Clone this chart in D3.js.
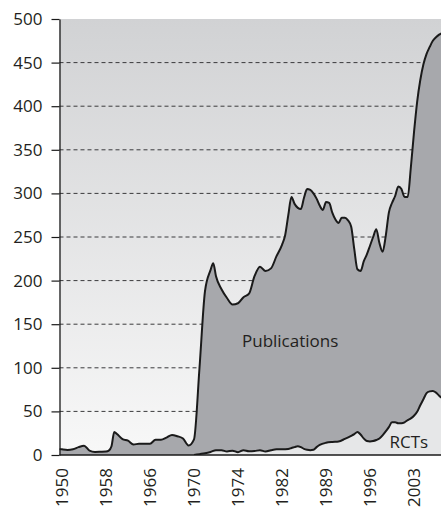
<!DOCTYPE html>
<html>
<head>
<meta charset="utf-8">
<script src="https://cdn.jsdelivr.net/npm/d3@7"></script>
<style>
  html, body { margin: 0; padding: 0; background: #ffffff; }
  svg { display: block; }
  text { font-family: "Open Sans", "Noto Sans", sans-serif; fill: #231f20; }
</style>
</head>
<body>
<svg id="chart" width="441" height="510"></svg>
<script>
// Year labels shown along the bottom axis (equally spaced)
const tickYears = [1950, 1958, 1966, 1970, 1974, 1982, 1989, 1996, 2003];
// Value ticks on the left axis
const yTicks = [0, 50, 100, 150, 200, 250, 300, 350, 400, 450, 500];

// Publications per year
const pubYears = [
  1949.5, 1950, 1951, 1952, 1953, 1954, 1955, 1956, 1957, 1958, 1958.5, 1959, 1959.5,
  1960, 1961, 1962, 1963, 1964, 1965, 1966, 1966.5, 1967, 1967.5, 1968, 1968.5, 1969,
  1969.5, 1970, 1970.5, 1971, 1971.5, 1971.75, 1972, 1972.5, 1973, 1973.5, 1974,
  1975, 1976, 1977, 1978, 1979, 1980, 1981, 1982, 1982.5, 1983, 1983.5, 1984, 1985,
  1985.5, 1986, 1986.5, 1987, 1987.5, 1988, 1988.5, 1989, 1989.5, 1990, 1990.5, 1991,
  1991.5, 1992, 1992.5, 1993, 1993.5, 1994, 1994.5, 1995, 1995.5, 1996, 1996.5, 1997,
  1997.5, 1998, 1998.5, 1999, 1999.5, 2000, 2000.5, 2001, 2001.5, 2002, 2002.5, 2003,
  2003.5, 2004, 2004.5, 2005, 2005.5, 2006, 2006.5, 2007, 2007.5
];
const pubCounts = [
  7, 6.5, 5.8, 6.5, 9, 10.7, 5, 3.5, 3.7, 4, 5, 10, 26.5,
  24, 18.3, 16.4, 12, 13, 13, 13, 17.5, 17.5, 20, 23, 21.5, 19,
  11, 18, 100, 188, 212, 220, 205, 190, 180, 172.5, 174,
  181, 185, 205, 216, 211, 214, 228, 241, 252, 275, 296, 288, 282,
  295, 305, 304, 300, 294, 286, 281, 290, 289, 278, 270, 266,
  272, 272, 269, 262, 236, 213, 211, 222, 230, 240, 250, 259,
  243, 233, 251, 278, 289, 297, 308, 305, 296, 296, 330, 370,
  405, 430, 448, 460, 468, 475, 479, 482, 484
];

// Randomised controlled trials per year
const rctYears = [
  1970, 1970.5, 1971, 1971.5, 1972, 1972.5, 1973, 1973.5, 1974, 1975, 1976, 1977,
  1978, 1979, 1980, 1981, 1982, 1983, 1983.5, 1984, 1984.5, 1985, 1985.5, 1986,
  1986.5, 1987, 1987.5, 1988, 1989, 1990, 1991, 1992, 1993, 1993.5, 1994, 1994.5,
  1995, 1995.5, 1996, 1996.5, 1997, 1997.5, 1998, 1998.5, 1999, 1999.5, 2000, 2000.5,
  2001, 2001.5, 2002, 2002.5, 2003, 2003.5, 2004, 2004.5, 2005, 2005.5, 2006, 2006.5,
  2007, 2007.5
];
const rctCounts = [
  0, 1, 2, 3.5, 5.5, 5.5, 4, 5, 3.2, 5.5, 4.3, 4.5,
  5.5, 4, 5.5, 6.5, 6.5, 7, 8, 9, 10, 9, 7, 6,
  5.5, 6, 9, 11.5, 14, 15, 15.5, 18.5, 22, 24, 26.5, 23.5,
  19, 16, 15.5, 16, 17.2, 19, 22.5, 27, 32, 37.5, 37.5, 36.5,
  36.5, 37.5, 40, 42, 45, 49.5, 57, 64, 71, 73, 73.5, 71.5,
  68, 65
];

const svg = d3.select("#chart");
const W = 441, H = 510;
const plotLeft = 59.5, plotTop = 19, plotBottom = 455, plotRight = W;
const firstTick = 62, tickStep = 44;

const x = d3.scaleLinear()
  .domain(tickYears)
  .range(tickYears.map((d, i) => firstTick + i * tickStep));
const y = d3.scaleLinear().domain([0, 500]).range([plotBottom, plotTop]);

// Plot background: grey at the top fading to near white at the baseline
const defs = svg.append("defs");
const grad = defs.append("linearGradient")
  .attr("id", "bg").attr("x1", 0).attr("y1", 0).attr("x2", 0).attr("y2", 1);
grad.append("stop").attr("offset", "0%").attr("stop-color", "#d1d2d4");
grad.append("stop").attr("offset", "100%").attr("stop-color", "#f8f8f8");
defs.append("clipPath").attr("id", "plotClip")
  .append("rect")
  .attr("x", plotLeft).attr("y", plotTop - 5)
  .attr("width", plotRight - plotLeft).attr("height", plotBottom - plotTop + 5);

svg.append("rect")
  .attr("x", plotLeft).attr("y", plotTop)
  .attr("width", plotRight - plotLeft).attr("height", plotBottom - plotTop)
  .attr("fill", "url(#bg)");

// Dashed gridlines
svg.append("g")
  .selectAll("line")
  .data(yTicks.filter(d => d > 0 && d < 500))
  .join("line")
  .attr("x1", plotLeft).attr("x2", plotRight)
  .attr("y1", d => y(d)).attr("y2", d => y(d))
  .attr("stroke", "#3a3a3c").attr("stroke-width", 1)
  .attr("stroke-dasharray", "4,3");

const plot = svg.append("g").attr("clip-path", "url(#plotClip)");

const pubData = pubYears.map((yr, i) => ({ yr, v: pubCounts[i] }));
const rctData = rctYears.map((yr, i) => ({ yr, v: rctCounts[i] }));

const area = d3.area()
  .x(d => x(d.yr)).y0(y(0)).y1(d => y(d.v))
  .curve(d3.curveMonotoneX);
const line = d3.line()
  .x(d => x(d.yr)).y(d => y(d.v))
  .curve(d3.curveMonotoneX);

plot.append("path").datum(pubData)
  .attr("d", area).attr("fill", "#a7a8ac");
plot.append("path").datum(pubData)
  .attr("d", line).attr("fill", "none")
  .attr("stroke", "#1a1a1a").attr("stroke-width", 2).attr("stroke-linejoin", "round");

plot.append("path").datum(rctData)
  .attr("d", area).attr("fill", "#e6e7e8");
plot.append("path").datum(rctData)
  .attr("d", line).attr("fill", "none")
  .attr("stroke", "#1a1a1a").attr("stroke-width", 2).attr("stroke-linejoin", "round");

// Left axis
const yAxis = svg.append("g")
  .attr("transform", `translate(${plotLeft},0)`)
  .call(d3.axisLeft(y).tickValues(yTicks).tickSize(8).tickPadding(9).tickSizeOuter(0));
yAxis.select(".domain").attr("stroke", "#1a1a1a").attr("stroke-width", 1.3);
yAxis.selectAll(".tick line").attr("stroke", "#1a1a1a").attr("stroke-width", 1.2);
yAxis.selectAll("text")
  .style("font-size", "17px")
  .style("font-family", "'Open Sans', 'Noto Sans', sans-serif")
  .attr("fill", "#231f20");

// Bottom axis with vertical year labels
const xAxis = svg.append("g")
  .attr("transform", `translate(0,${plotBottom})`)
  .call(d3.axisBottom(x).tickValues(tickYears).tickFormat(d3.format("d")).tickSize(0).tickSizeOuter(0));
xAxis.select(".domain").remove();
xAxis.selectAll("text")
  .attr("transform", "rotate(-90)")
  .attr("text-anchor", "end")
  .attr("x", -13).attr("y", 0).attr("dy", "0.35em")
  .style("font-size", "17px")
  .style("font-family", "'Open Sans', 'Noto Sans', sans-serif")
  .attr("fill", "#231f20");
svg.append("line")
  .attr("x1", plotLeft).attr("x2", plotRight)
  .attr("y1", plotBottom).attr("y2", plotBottom)
  .attr("stroke", "#1a1a1a").attr("stroke-width", 1.3);

// Series labels
svg.append("text")
  .attr("x", x(1983.3)).attr("y", y(125) + 0.5)
  .attr("text-anchor", "middle")
  .style("font-size", "17px")
  .text("Publications");
svg.append("text")
  .attr("x", x(1999.1)).attr("y", y(8))
  .attr("text-anchor", "start")
  .style("font-size", "17px")
  .text("RCTs");
</script>
</body>
</html>
